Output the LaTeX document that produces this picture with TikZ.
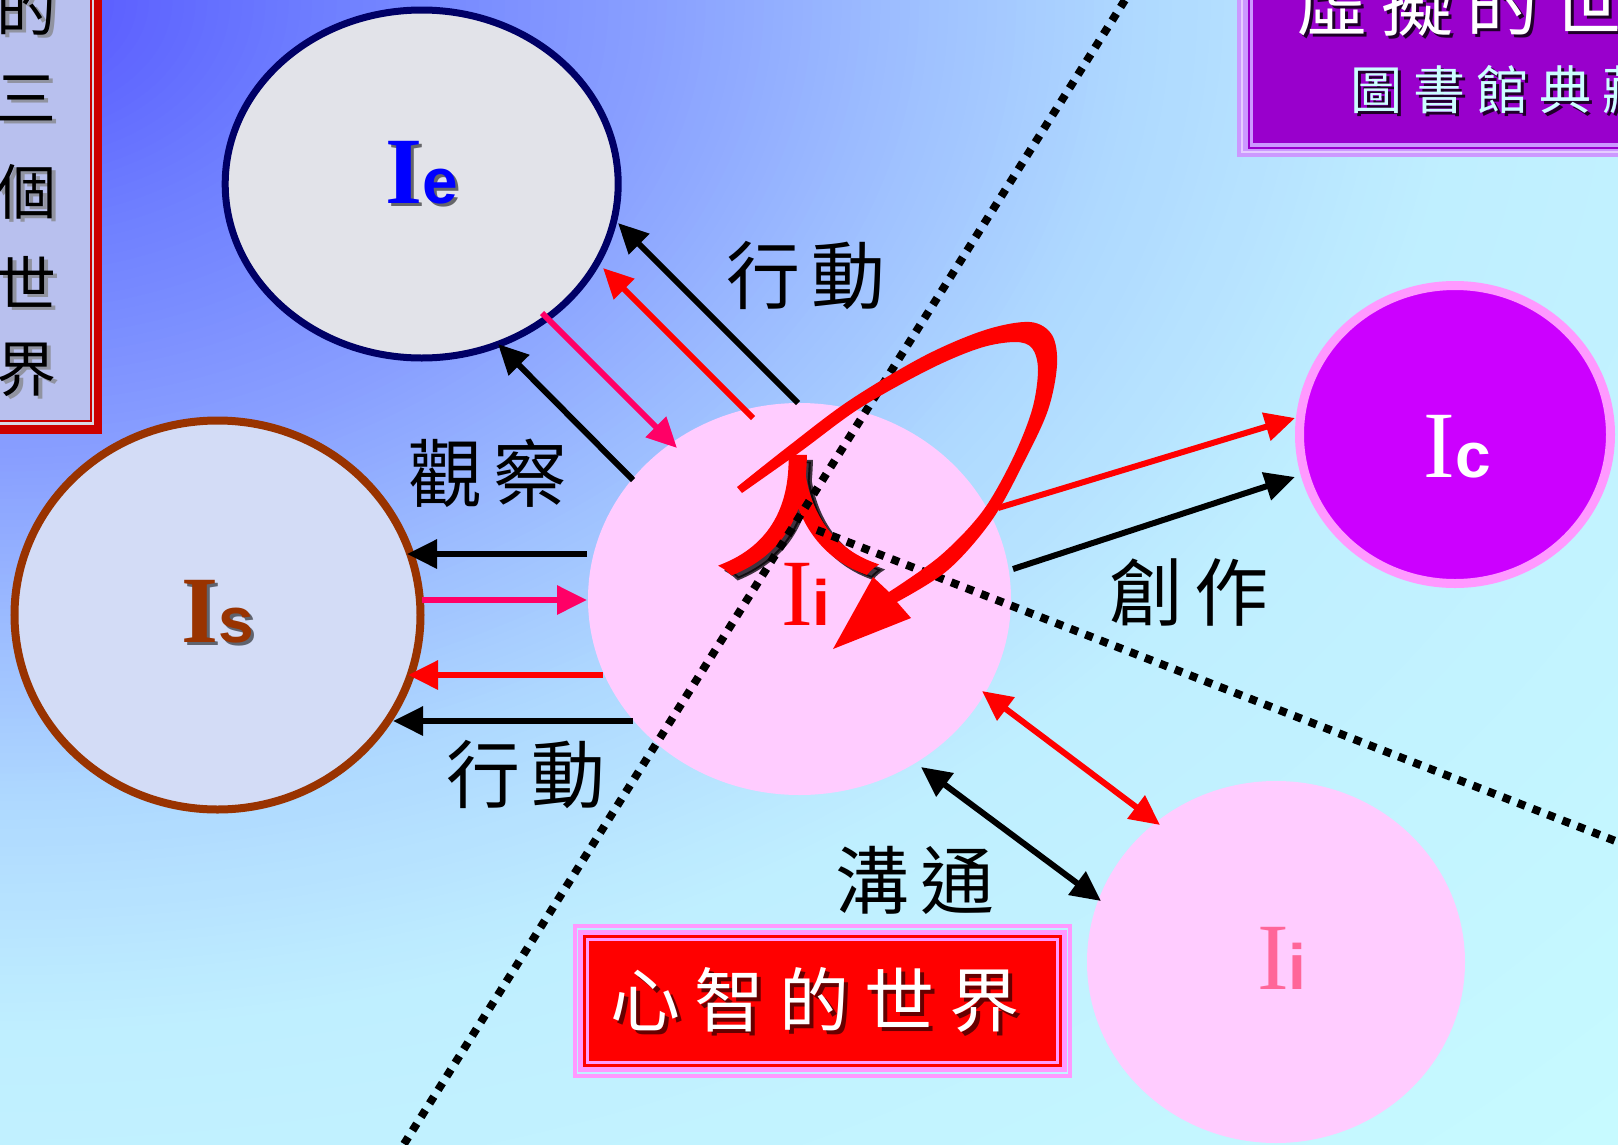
\documentclass[tikz,border=0pt]{standalone}
\usepackage{fontspec}
\usepackage{graphicx}
\setmainfont{Liberation Serif}
\newfontfamily\cjk{Noto Sans CJK TC}
\newfontfamily\cjkheavy[FakeBold=2.5]{Noto Sans CJK TC}
\newfontfamily\lsans{Liberation Sans}
\usetikzlibrary{arrows.meta,shapes.geometric}

\definecolor{bgA}{HTML}{5656FF}
\definecolor{bgB}{HTML}{6E7EFF}
\definecolor{bgC}{HTML}{889EFF}
\definecolor{bgD}{HTML}{9CBCFF}
\definecolor{bgE}{HTML}{AED8FF}
\definecolor{bgF}{HTML}{BFEEFF}
\definecolor{bgG}{HTML}{C8FCFF}

\definecolor{ieBorder}{HTML}{000066}
\definecolor{ieFill}{HTML}{E2E3E9}
\definecolor{isBorder}{HTML}{993300}
\definecolor{isFill}{HTML}{D3DCF6}
\definecolor{iiFill}{HTML}{FFCCFF}
\definecolor{icFill}{HTML}{CC00FF}
\definecolor{icBorder}{HTML}{FF99FF}
\definecolor{hotpink}{HTML}{FF0066}
\definecolor{ii2Text}{HTML}{FF6699}
\definecolor{lboxred}{HTML}{CC0000}
\definecolor{lboxgray}{HTML}{D8D8E4}
\definecolor{lboxfill}{HTML}{B8C0EE}
\definecolor{lavA}{HTML}{CC99FF}
\definecolor{lavB}{HTML}{E6CCFF}
\definecolor{purpA}{HTML}{9900CC}
\definecolor{pinkA}{HTML}{FF99FF}
\definecolor{lightcyantext}{HTML}{CCFFFF}

\newcommand{\ltrI}[1]{{\fontsize{95pt}{95pt}\selectfont #1I}}
\newcommand{\ltrlow}[1]{{\lsans\bfseries\fontsize{64pt}{64pt}\selectfont #1}}

\tikzset{
  arr/.style={line width=6pt, -{Triangle[length=30pt,width=28pt]}},
  darr/.style={line width=6pt, {Triangle[length=30pt,width=28pt]}-{Triangle[length=30pt,width=28pt]}},
  dotln/.style={line width=8pt, dash pattern=on 8pt off 8pt},
  cjklbl/.style={font=\cjk\fontsize{74pt}{74pt}\selectfont, inner sep=0pt, text=black},
  cjkv/.style={font=\cjk\fontsize{60pt}{60pt}\selectfont, inner sep=0pt},
  world/.style={ellipse, inner sep=0pt},
  renfont/.style={font=\cjkheavy\fontsize{128pt}{128pt}\selectfont, inner sep=0pt},
}

\begin{document}
\begin{tikzpicture}[x=1pt,y=-1pt]
\useasboundingbox (0,0) rectangle (1618,1144);
\clip (0,0) rectangle (1618,1144);
% background: elliptical gradient from the top-left corner
\fill[bgG] (0,0) rectangle (1618,1144);
\foreach \ra/\rb/\ca/\cb in {90/150/bgF/bgG,70/90/bgE/bgF,55/70/bgD/bgE,40/55/bgC/bgD,20/40/bgB/bgC,2/20/bgA/bgB}{
  \foreach \t in {0,4,...,100}{
    \pgfmathsetmacro{\rr}{\rb-(\rb-\ra)*\t/100}
    \fill[\ca!\t!\cb] (0,0) ellipse [x radius=\rr*16.18, y radius=\rr*11.44];
  }
}

% left title box
\fill[lboxred] (-10,-10) rectangle (102,434);
\fill[lboxgray] (-10,-10) rectangle (94,424.5);
\fill[lboxred] (-10,-10) rectangle (92,422);
\fill[lboxfill] (-10,-10) rectangle (89.5,419.5);
\foreach \ch/\yy [count=\k] in {的/8,三/98,個/192,世/282,界/370}{
  \node[cjkv, text=gray, opacity=.7] (lbs\k) at (30,\yy+3) {\ch};
  \node[cjkv, text=black] (lb\k) at (27,\yy) {\ch};
}

% top right box
\fill[lavA] (1237,-10) rectangle (1630,157);
\draw[lavB, line width=2pt] (1242,-10) rectangle (1630,152);
\draw[purpA, line width=2pt] (1249,-10) rectangle (1630,147.5);
\fill[purpA] (1253,-10) rectangle (1630,143);
\node[anchor=west, inner sep=0pt, font=\cjk\fontsize{72pt}{72pt}\selectfont, text=black!80!purpA] (vt1s) at (1299,6)
  {虛\hspace{13pt}擬\hspace{13pt}的\hspace{13pt}世\hspace{13pt}界};
\node[anchor=west, inner sep=0pt, font=\cjk\fontsize{72pt}{72pt}\selectfont, text=white] (vt1) at (1296,3)
  {虛\hspace{13pt}擬\hspace{13pt}的\hspace{13pt}世\hspace{13pt}界};
\node[anchor=west, inner sep=0pt, font=\cjk\fontsize{52pt}{52pt}\selectfont, text=black!80!purpA] (vt2s) at (1353,93)
  {圖\hspace{11pt}書\hspace{11pt}館\hspace{11pt}典\hspace{11pt}藏};
\node[anchor=west, inner sep=0pt, font=\cjk\fontsize{52pt}{52pt}\selectfont, text=lightcyantext] (vt2) at (1350,90)
  {圖\hspace{11pt}書\hspace{11pt}館\hspace{11pt}典\hspace{11pt}藏};

% worlds
\node[world, draw=ieBorder, line width=7pt, fill=ieFill, minimum width=393pt, minimum height=348pt] (Ie) at (421.7,184) {};
\node[world, draw=isBorder, line width=8pt, fill=isFill, minimum width=406pt, minimum height=389pt] (Is) at (217.5,615) {};
\node[world, fill=iiFill, minimum width=423pt, minimum height=392pt] (Ii) at (799.5,599) {};
\node[world, draw=icBorder, line width=9pt, fill=icFill, minimum width=311pt, minimum height=298pt] (Ic) at (1455,434.5) {};
\node[world, fill=iiFill, minimum width=378pt, minimum height=362pt] (Ii2) at (1276,962) {};

% world labels
\node[anchor=base, text=black, opacity=.55] (IeS) at (425,206) {\ltrI{\bfseries}\ltrlow{e}};
\node[anchor=base, text=blue] (IeL) at (422,203) {\ltrI{\bfseries}\ltrlow{e}};
\node[anchor=base, text=black, opacity=.55] (IsS) at (221,645) {\ltrI{\bfseries}\ltrlow{s}};
\node[anchor=base, text=isBorder] (IsL) at (218,642) {\ltrI{\bfseries}\ltrlow{s}};
\node[anchor=base, text=red] (IiL) at (806,625) {\ltrI{}\ltrlow{i}};
\node[anchor=base, text=white] (IcL) at (1457,477) {\ltrI{}\ltrlow{c}};
\node[anchor=base, text=ii2Text] (Ii2L) at (1282,989) {\ltrI{}\ltrlow{i}};

% arrow end points
\coordinate (a1s) at (633,480); \coordinate (a1e) at (498,344);
\coordinate (a2s) at (542,313); \coordinate (a2e) at (677,448);
\coordinate (a3s) at (753,418); \coordinate (a3e) at (603,268);
\coordinate (a4s) at (798,403); \coordinate (a4e) at (618,223);
\coordinate (b1s) at (587,554); \coordinate (b1e) at (407,554);
\coordinate (b2s) at (422,600); \coordinate (b2e) at (587,600);
\coordinate (b3s) at (603,675); \coordinate (b3e) at (408,675);
\coordinate (b4s) at (633,721); \coordinate (b4e) at (393,721);
\coordinate (c1s) at (998,508); \coordinate (c1e) at (1295,418);
\coordinate (c2s) at (1013,569); \coordinate (c2e) at (1295,477);
\coordinate (d1s) at (982,691); \coordinate (d1e) at (1160,825);
\coordinate (d2s) at (921,767); \coordinate (d2e) at (1101,901);

\draw[arr, black] (a1s) -- (a1e);
\draw[arr, hotpink] (a2s) -- (a2e);
\draw[arr, red] (a3s) -- (a3e);
\draw[arr, black] (a4s) -- (a4e);
\draw[arr, black] (b1s) -- (b1e);
\draw[arr, hotpink] (b2s) -- (b2e);
\draw[arr, red] (b3s) -- (b3e);
\draw[arr, black] (b4s) -- (b4e);
\draw[arr, red] (c1s) -- (c1e);
\draw[arr, black] (c2s) -- (c2e);
\draw[darr, red] (d1s) -- (d1e);
\draw[darr, black] (d2s) -- (d2e);

% person
\node[renfont, text=black, opacity=.75] (renS) at (804,520) {\scalebox{1.3}[1]{人}};
\node[renfont, text=red] (ren) at (798,515) {\scalebox{1.3}[1]{人}};

% dotted boundaries
\coordinate (dl1a) at (404,1144); \coordinate (dl1b) at (1125,0);
\coordinate (dl2a) at (817,530); \coordinate (dl2b) at (1618,842);
\draw[dotln] (dl1a) -- (dl1b);
\draw[dotln] (dl2a) -- (dl2b);

% reflexive loop
\fill[red] plot[smooth, tension=0.55] coordinates {(737,487) (790,445) (850,400) (924,356) (985,330) (1030,322) (1052,335) (1057,365) (1048,410) (1025,460) (992,520) (948,570) (897,602)}
  -- (911,618) -- (833,649) -- (873,577)
  -- plot[smooth, tension=0.55] coordinates {(889,592) (940,556) (982,512) (1012,460) (1032,410) (1038,370) (1032,348) (1015,342) (980,348) (930,369) (860,408) (800,452) (742,493)}
  -- cycle;

% relation labels
\node[cjklbl] (t1) at (806,276) {行\hspace{12pt}動};
\node[cjklbl] (t2) at (488,473) {觀\hspace{12pt}察};
\node[cjklbl] (t3) at (526,775) {行\hspace{12pt}動};
\node[cjklbl] (t4) at (1189,592) {創\hspace{12pt}作};
\node[cjklbl] (t5) at (915,880) {溝\hspace{12pt}通};

% mind box
\draw[pinkA, line width=4pt] (575,926) rectangle (1070,1076);
\fill[pinkA] (578,930) rectangle (1067,1072);
\draw[red, line width=3pt] (584.5,936.5) rectangle (1060.5,1065.5);
\fill[red] (589,941) rectangle (1056,1061);
\node[font=\cjk\fontsize{70pt}{70pt}\selectfont, text=black, opacity=.6, inner sep=0pt] (mindS) at (819,1004)
  {心\hspace{15pt}智\hspace{15pt}的\hspace{15pt}世\hspace{15pt}界};
\node[font=\cjk\fontsize{70pt}{70pt}\selectfont, text=white, inner sep=0pt] (mind) at (815,1000)
  {心\hspace{15pt}智\hspace{15pt}的\hspace{15pt}世\hspace{15pt}界};
\end{tikzpicture}
\end{document}
